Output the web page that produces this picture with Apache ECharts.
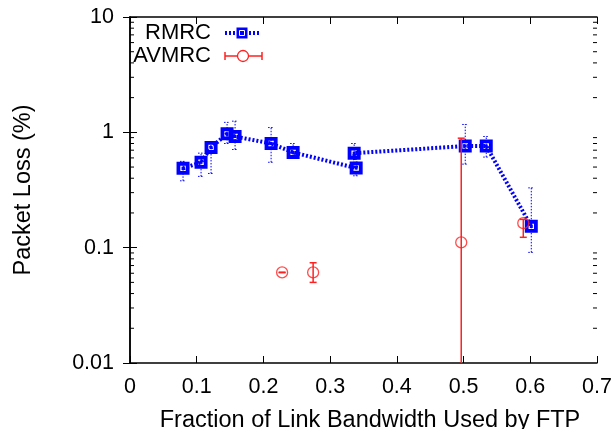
<!DOCTYPE html>
<html><head><meta charset="utf-8">
<script src="https://cdn.jsdelivr.net/npm/echarts@6/dist/echarts.min.js"></script>
<style>html,body{margin:0;padding:0;background:#fff}#c{width:613px;height:429px}</style>
</head><body><div id="c"></div>
<script>
// ---- data ----
const rmrcX    = [0.0795, 0.1065, 0.1215, 0.1455, 0.1575, 0.2115, 0.2445, 0.339, 0.336, 0.5025, 0.534, 0.6015];
const rmrcY    = [0.487,  0.55,   0.74,   0.97,   0.92,   0.80,   0.67,   0.49,  0.66,  0.76,   0.76,  0.153];
const rmrcLow  = [0.38,   0.415,  0.44,   0.80,   0.71,   0.55,   0.60,   0.42,  0.60,  0.53,   0.61,  0.091];
const rmrcHigh = [0.56,   0.66,   0.80,   1.22,   1.25,   1.10,   0.80,   0.55,  0.80,  1.17,   0.92,  0.33];
const avX    = [0.228,  0.2745, 0.4965, 0.5895];
const avY    = [0.061,  0.061,  0.111,  0.163];
const avLow  = [0.0607, 0.050,  0.001,  0.123];
const avHigh = [0.0613, 0.074,  0.89,   0.176];
const xTicks = [0, 0.1, 0.2, 0.3, 0.4, 0.5, 0.6, 0.7];
const yTicks = [0.01, 0.1, 1, 10];
const yMinorMult = [2, 3, 4, 5, 6, 7, 8, 9];

const FONT = 'Liberation Sans, Arial, Helvetica, sans-serif';
const BLUE = '#0000ff';
const RED = '#ff2020';

const minorVals = [];
for (let d = 0; d < yTicks.length - 1; d++) yMinorMult.forEach(m => minorVals.push([0, yTicks[d] * m]));

function errRender(color, dash, capHalf, width) {
  return function (params, api) {
    const x = api.value(0), lo = api.value(1), hi = api.value(2);
    const a = api.coord([x, lo]), b = api.coord([x, hi]);
    const st = { stroke: color, lineWidth: width, lineDash: dash, fill: null };
    return { type: 'group', children: [
      { type: 'line', shape: { x1: a[0], y1: a[1], x2: b[0], y2: b[1] }, style: st },
      { type: 'line', shape: { x1: a[0] - capHalf, y1: a[1], x2: a[0] + capHalf, y2: a[1] }, style: st },
      { type: 'line', shape: { x1: b[0] - capHalf, y1: b[1], x2: b[0] + capHalf, y2: b[1] }, style: st }
    ]};
  };
}

function minorRender(params, api) {
  const p = api.coord([0, api.value(1)]);
  const cs = params.coordSys;
  const st = { stroke: '#000', lineWidth: 1 };
  return { type: 'group', children: [
    { type: 'line', shape: { x1: cs.x, y1: p[1], x2: cs.x + 4, y2: p[1] }, style: st },
    { type: 'line', shape: { x1: cs.x + cs.width, y1: p[1], x2: cs.x + cs.width - 4, y2: p[1] }, style: st }
  ]};
}

const squareSym = 'path://M0,0L12,0L12,12L0,12Z M3.5,3.5L3.5,8.5L8.5,8.5L8.5,3.5Z M4.6,4.6L7.4,4.6L7.4,7.4L4.6,7.4Z';

const chart = echarts.init(document.getElementById('c'), null, { renderer: 'canvas' });
const axisLabelStyle = { fontFamily: FONT, fontSize: 21.5, color: '#000' };
chart.setOption({
  animation: false,
  backgroundColor: '#fff',
  grid: { left: 130, right: 16, top: 17, bottom: 66, containLabel: false, outerBoundsMode: 'none' },
  xAxis: [{
    type: 'value', min: 0, max: 0.7, interval: 0.1,
    axisLine: { lineStyle: { color: '#000', width: 1.5 } },
    axisTick: { inside: true, length: 7, lineStyle: { color: '#000' } },
    axisLabel: Object.assign({ margin: 13, formatter: v => String(+v.toFixed(1)) }, axisLabelStyle),
    splitLine: { show: false },
    name: 'Fraction of Link Bandwidth Used by FTP', nameLocation: 'middle', nameGap: 46,
    nameTextStyle: { fontFamily: FONT, fontSize: 23.5, color: '#000', padding: [0, 0, 0, 13] }
  }, {
    type: 'value', min: 0, max: 0.7, interval: 0.1, position: 'top',
    axisLine: { lineStyle: { color: '#000', width: 1.5 } },
    axisTick: { inside: true, length: 7, lineStyle: { color: '#000' } },
    axisLabel: { show: false }, splitLine: { show: false }
  }],
  yAxis: [{
    type: 'log', logBase: 10, min: 0.01, max: 10,
    axisLine: { show: true, lineStyle: { color: '#000', width: 1.5 } },
    axisTick: { show: true, inside: true, length: 7, lineStyle: { color: '#000' } },
    axisLabel: Object.assign({ margin: 16, formatter: v => String(+(+v).toPrecision(2)) }, axisLabelStyle),
    splitLine: { show: false },
    name: 'Packet Loss (%)', nameLocation: 'middle', nameGap: 94,
    nameTextStyle: { fontFamily: FONT, fontSize: 23.5, color: '#000' }
  }, {
    type: 'log', logBase: 10, min: 0.01, max: 10, position: 'right',
    axisLine: { show: true, lineStyle: { color: '#000', width: 1.5 } },
    axisTick: { show: true, inside: true, length: 7, lineStyle: { color: '#000' } },
    axisLabel: { show: false }, splitLine: { show: false }
  }],
  series: [
    { type: 'custom', name: 'minor', renderItem: minorRender, data: minorVals, silent: true, clip: false, z: 1 },
    { type: 'custom', name: 'RMRC err', renderItem: errRender(BLUE, [1.5, 1.5], 3, 1),
      data: rmrcX.map((x, i) => [x, rmrcLow[i], rmrcHigh[i]]), encode: { x: 0, y: [1, 2] }, clip: true, z: 2 },
    { type: 'line', name: 'RMRC', data: rmrcX.map((x, i) => [x, rmrcY[i]]),
      lineStyle: { color: BLUE, width: 4, type: [2, 2] },
      symbol: squareSym, symbolSize: 13, showAllSymbol: true,
      itemStyle: { color: BLUE }, z: 3 },
    { type: 'custom', name: 'AVMRC err', renderItem: errRender(RED, null, 3.5, 1.5),
      data: avX.map((x, i) => [x, avLow[i], avHigh[i]]), encode: { x: 0, y: [1, 2] }, clip: true, z: 4 },
    { type: 'scatter', name: 'AVMRC', data: avX.map((x, i) => [x, avY[i]]),
      symbol: 'circle', symbolSize: 11,
      itemStyle: { color: 'rgba(0,0,0,0)', borderColor: RED, borderWidth: 1.3 }, z: 5 }
  ],
  graphic: [
    { type: 'text', x: 211, y: 33, style: { text: 'RMRC', fontFamily: FONT, fontSize: 22, fill: '#000', align: 'right', verticalAlign: 'middle' } },
    { type: 'text', x: 211, y: 56, style: { text: 'AVMRC', fontFamily: FONT, fontSize: 22, fill: '#000', align: 'right', verticalAlign: 'middle' } },
    { type: 'line', shape: { x1: 225, y1: 33, x2: 260, y2: 33 }, style: { stroke: BLUE, lineWidth: 4, lineDash: [2, 2] } },
    { type: 'rect', shape: { x: 236.5, y: 27.5, width: 11, height: 11 }, style: { fill: BLUE } },
    { type: 'rect', shape: { x: 239.5, y: 30.5, width: 5, height: 5 }, style: { fill: BLUE, stroke: '#fff', lineWidth: 1 } },
    { type: 'line', shape: { x1: 225, y1: 56, x2: 262, y2: 56 }, style: { stroke: RED, lineWidth: 1.5 } },
    { type: 'line', shape: { x1: 225, y1: 52, x2: 225, y2: 60 }, style: { stroke: RED, lineWidth: 1.5 } },
    { type: 'line', shape: { x1: 262, y1: 52, x2: 262, y2: 60 }, style: { stroke: RED, lineWidth: 1.5 } },
    { type: 'circle', shape: { cx: 243, cy: 56, r: 5.5 }, style: { fill: '#fff', stroke: RED, lineWidth: 1.3 } }
  ]
});
</script>
</body></html>
